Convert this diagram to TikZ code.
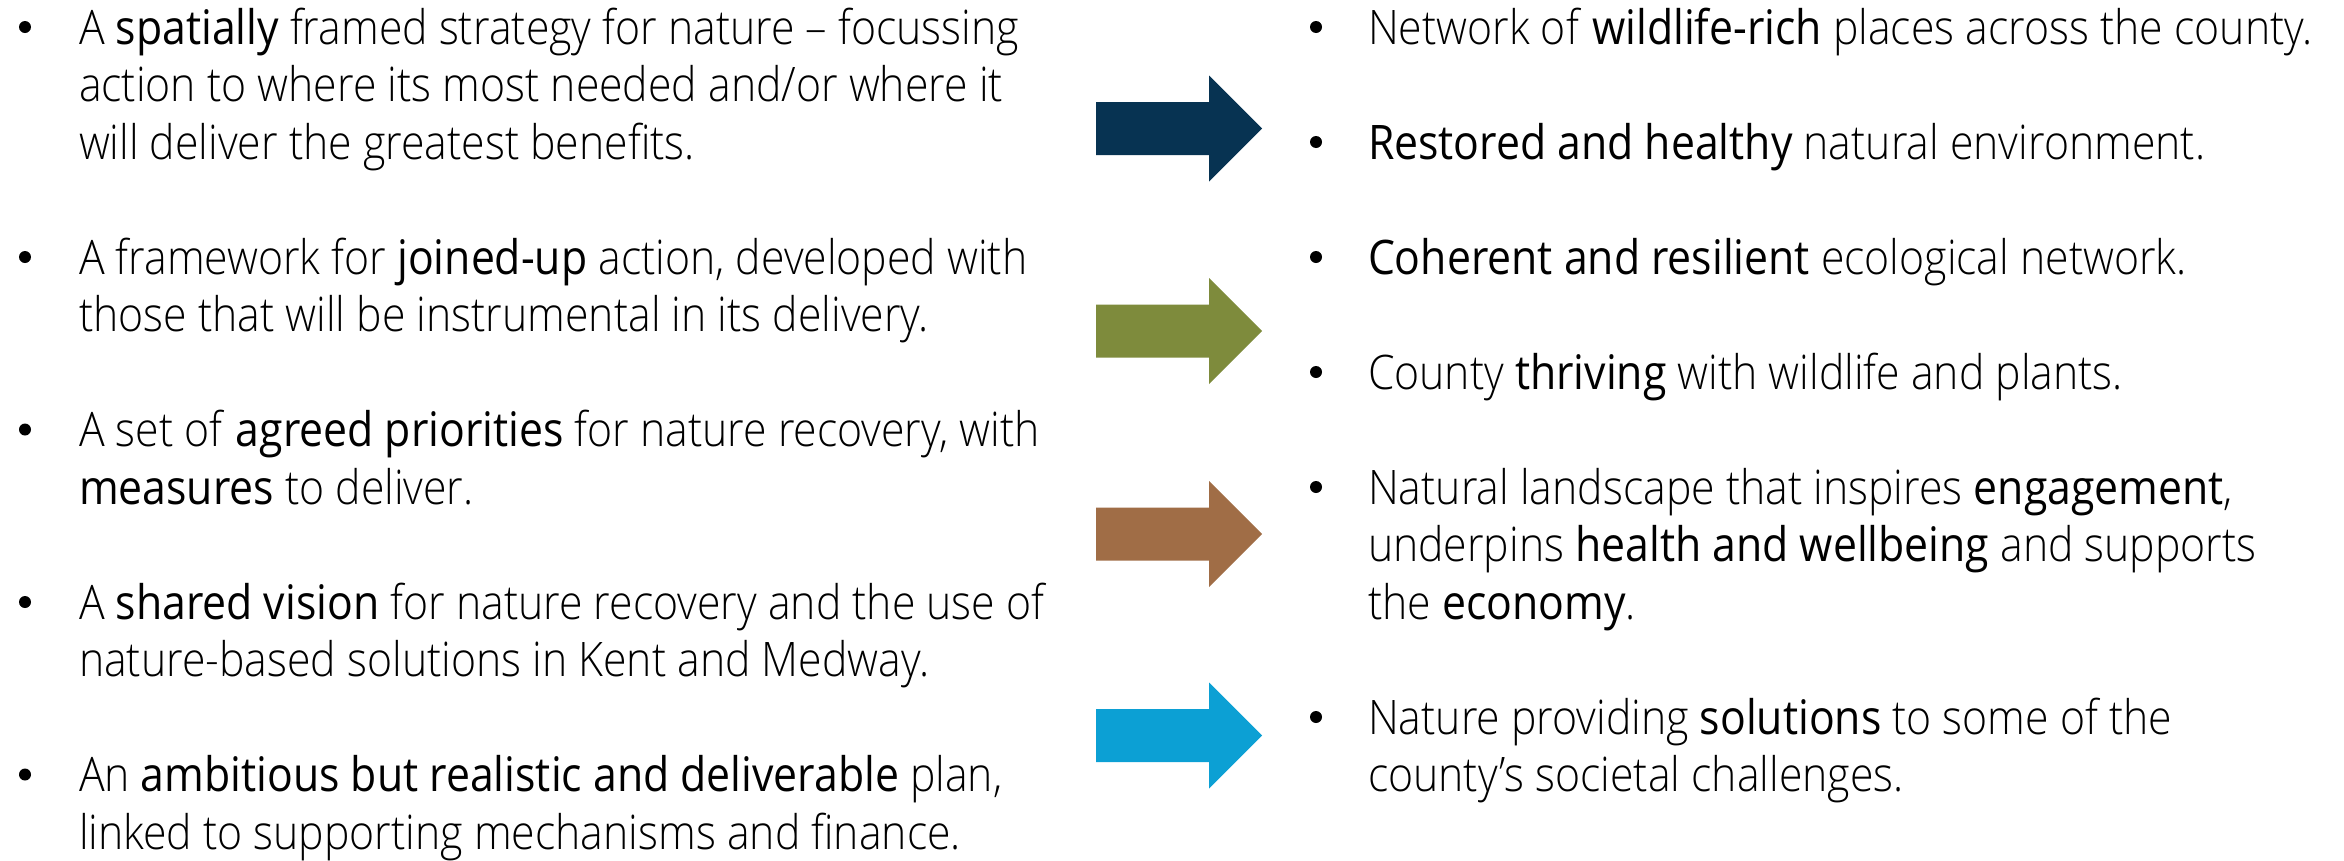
\documentclass[tikz,border=0pt]{standalone}
\usepackage{fontspec}
\setmainfont{Open Sans}[UprightFont={* Light}, BoldFont={*}, FakeStretch=0.898]
\definecolor{navy}{RGB}{7,51,82}
\definecolor{olive}{RGB}{126,139,60}
\definecolor{brownc}{RGB}{160,109,70}
\definecolor{cyanc}{RGB}{12,160,212}
\newcommand\txtline[3]{\node[txt] (#1) at (#2) {#3};}
\newcommand\blockarrow[2]{\fill[#1] (1096,{#2-26.5}) -- (1209,{#2-26.5}) -- (1209,{#2-53}) -- (1262,#2) -- (1209,{#2+53}) -- (1209,{#2+26.5}) -- (1096,{#2+26.5}) -- cycle;}
\begin{document}
\begin{tikzpicture}[x=1pt,y=-1pt,
  txt/.style={anchor=base west, inner sep=0pt, outer sep=0pt, font=\fontsize{47.6}{57.5}\selectfont},
  dot/.style={fill=black}]
\useasboundingbox (0,0) rectangle (2344,860);
% left column bullets
\foreach \b in {44,274,446.5,619,791.5} {\fill (25,{\b-17}) circle (6);}
\txtline{l1a}{79,44}{A \textbf{spatially} framed strategy for nature – focussing}
\txtline{l1b}{79,101.5}{action to where its most needed and/or where it}
\txtline{l1c}{79,159}{will deliver the greatest benefits.}
\txtline{l2a}{79,274}{A framework for \textbf{joined-up} action, developed with}
\txtline{l2b}{79,331.5}{those that will be instrumental in its delivery.}
\txtline{l3a}{79,446.5}{A set of \textbf{agreed priorities} for nature recovery, with}
\txtline{l3b}{79,504}{\textbf{measures} to deliver.}
\txtline{l4a}{79,619}{A \textbf{shared vision} for nature recovery and the use of}
\txtline{l4b}{79,676.5}{nature-based solutions in Kent and Medway.}
\txtline{l5a}{79,791.5}{An \textbf{ambitious but realistic and deliverable} plan,}
\txtline{l5b}{79,849}{linked to supporting mechanisms and finance.}
% arrows
\blockarrow{navy}{128.5}
\blockarrow{olive}{331}
\blockarrow{brownc}{534}
\blockarrow{cyanc}{735.5}
% right column
\foreach \b in {44,159,274,389,504,734} {\fill (1316,{\b-17}) circle (6);}
\txtline{r1}{1368,44}{Network of \textbf{wildlife-rich} places across the county.}
\txtline{r2}{1368,159}{\textbf{Restored and healthy} natural environment.}
\txtline{r3}{1368,274}{\textbf{Coherent and resilient} ecological network.}
\txtline{r4}{1368,389}{County \textbf{thriving} with wildlife and plants.}
\txtline{r5a}{1368,504}{Natural landscape that inspires \textbf{engagement},}
\txtline{r5b}{1368,561.5}{underpins \textbf{health and wellbeing} and supports}
\txtline{r5c}{1368,619}{the \textbf{economy}.}
\txtline{r6a}{1368,734}{Nature providing \textbf{solutions} to some of the}
\txtline{r6b}{1368,791.5}{county’s societal challenges.}
\end{tikzpicture}
\end{document}
